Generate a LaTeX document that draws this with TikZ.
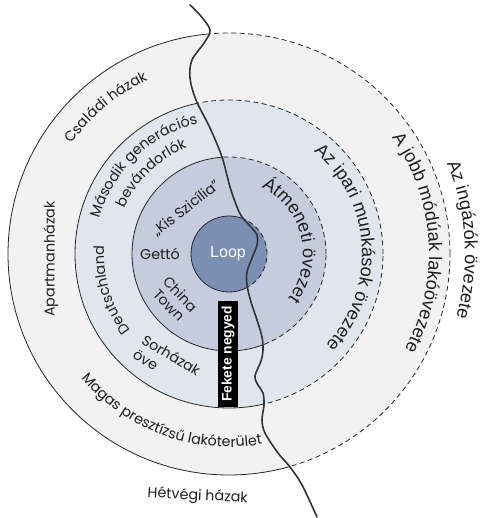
\documentclass[tikz,border=0pt]{standalone}
\usepackage{fontspec}
\setmainfont{Liberation Sans}
\newfontfamily\popf{Poppins}
\newfontfamily\libf{Liberation Sans}
\usetikzlibrary{decorations.text}
\definecolor{ringA}{HTML}{F2F2F2}
\definecolor{ringB}{HTML}{E1E5EE}
\definecolor{ringC}{HTML}{C5CCDD}
\definecolor{loopc}{HTML}{7B8FB3}
\definecolor{rivc}{HTML}{333333}
\definecolor{txt}{HTML}{1E1E1E}
\newcommand\lf{\popf\fontsize{14.3}{16}\selectfont}
\newcommand\rf{\libf\fontsize{18.2}{20}\selectfont}
\newcommand\riverpath{plot[smooth,tension=0.55] coordinates {(190,513) (200,503) (210,488) (204,475) (192,458) (190,440) (196,418) (210,390) (222,361) (230,331) (237,311) (242,301) (250,292) (257,283) (257,273) (252,260) (247,246) (247,233) (251,216) (257,198) (262,181) (263,168) (261,157) (255,142) (258,133) (263,125) (264,113) (262,98) (265,85) (278,65) (290,51) (302,33) (317,1)}}
\tikzset{
  ringline/.style={draw=black!85, line width=0.8pt},
  dashring/.style={draw=black!85, line width=0.8pt, dash pattern=on 5pt off 3.5pt},
  lbl/.style={font=\lf, text=txt, inner sep=0pt},
}
\begin{document}
\begin{tikzpicture}[x=1pt,y=1pt]
\useasboundingbox (0,0) rectangle (479,518);
\coordinate (C) at (229,264);
% fills
\fill[ringA] (C) circle[radius=221pt];
\fill[ringB] (C) circle[radius=154pt];
\fill[ringC] (C) circle[radius=97pt];
\fill[loopc] (C) circle[radius=38pt];
% solid (west of river)
\begin{scope}
\clip \riverpath -- (317,0) -- (0,0) -- (0,518) -- (190,518) -- cycle;
\draw[ringline] (C) circle[radius=221pt];
\draw[ringline] (C) circle[radius=154pt];
\draw[ringline] (C) circle[radius=97pt];
\draw[ringline] (C) circle[radius=38pt];
\end{scope}
% dashed (east of river)
\begin{scope}
\clip \riverpath -- (317,0) -- (479,0) -- (479,518) -- (190,518) -- cycle;
\draw[dashring] (C) circle[radius=221pt];
\draw[dashring] (C) circle[radius=154pt];
\draw[dashring] (C) circle[radius=97pt];
\draw[dashring] (C) circle[radius=38pt];
\end{scope}
% river
\draw[rivc, line width=1.6pt, line join=round, line cap=round] \riverpath;
% Fekete negyed
\node[fill=black, text=white, font=\libf\bfseries\fontsize{13.8}{15}\selectfont, rotate=90, minimum width=106pt, minimum height=20pt, inner sep=0pt] (fekete) at (228,164) {Fekete negyed};
% Loop
\node[font=\libf\fontsize{16}{18}\selectfont, text=white, inner sep=0pt] (loop) at (228,264) {Loop};
% curved labels, west side
\path[shift={(C)}, decorate, decoration={text along path, text align=center, text={|\lf\color{txt}|Családi házak}}] (175:192pt) arc[start angle=175, end angle=85, radius=192pt];
\path[shift={(C)}, decorate, decoration={text along path, text align=center, text={|\lf\color{txt}|Második generációs}}] (214:134pt) arc[start angle=214, end angle=54, radius=134pt];
\path[shift={(C)}, decorate, decoration={text along path, text align=center, text={|\lf\color{txt}|bevándorlók}}] (214:114pt) arc[start angle=214, end angle=54, radius=114pt];
\path[shift={(C)}, decorate, decoration={text along path, text align=center, text={|\lf\color{txt}|Deutschland}}] (242:125pt) arc[start angle=242, end angle=152, radius=125pt];
\path[shift={(C)}, decorate, decoration={text along path, text align=center, text={|\lf\color{txt}|Magas presztízsű lakóterület}}] (190:193pt) arc[start angle=190, end angle=310, radius=193pt];
% curved labels, east side
\path[shift={(C)}, decorate, decoration={text along path, text align=center, text={|\rf\color{txt}|Az ingázók övezete}}] (80:236pt) arc[start angle=80, end angle=-73, radius=236pt];
\path[shift={(C)}, decorate, decoration={text along path, text align=center, text={|\rf\color{txt}|A jobb módúak lakóövezete}}] (80:200pt) arc[start angle=80, end angle=-73, radius=200pt];
\path[shift={(C)}, decorate, decoration={text along path, text align=center, text={|\rf\color{txt}|Az ipari munkások övezete}}] (80:133pt) arc[start angle=80, end angle=-73, radius=133pt];
\path[shift={(C)}, decorate, decoration={text along path, text align=center, text={|\rf\color{txt}|Átmeneti övezet}}] (100:74pt) arc[start angle=100, end angle=-73, radius=74pt];
% straight labels
\node[lbl, rotate=90] (apt) at (51,259) {Apartmanházak};
\node[lbl] (getto) at (160,264) {Gettó};
\node[lbl, rotate=-46, align=center] (china) at (175,218.5) {China\\Town};
\node[lbl, rotate=-31, align=left] (sor) at (167,155.6) {Sorházak\\[1pt]öve};
\node[lbl, rotate=38] (kis) at (186,310) {„Kis Szicília”};
\node[lbl, rotate=-3, anchor=base] (het) at (197.5,18) {Hétvégi házak};
\end{tikzpicture}
\end{document}
